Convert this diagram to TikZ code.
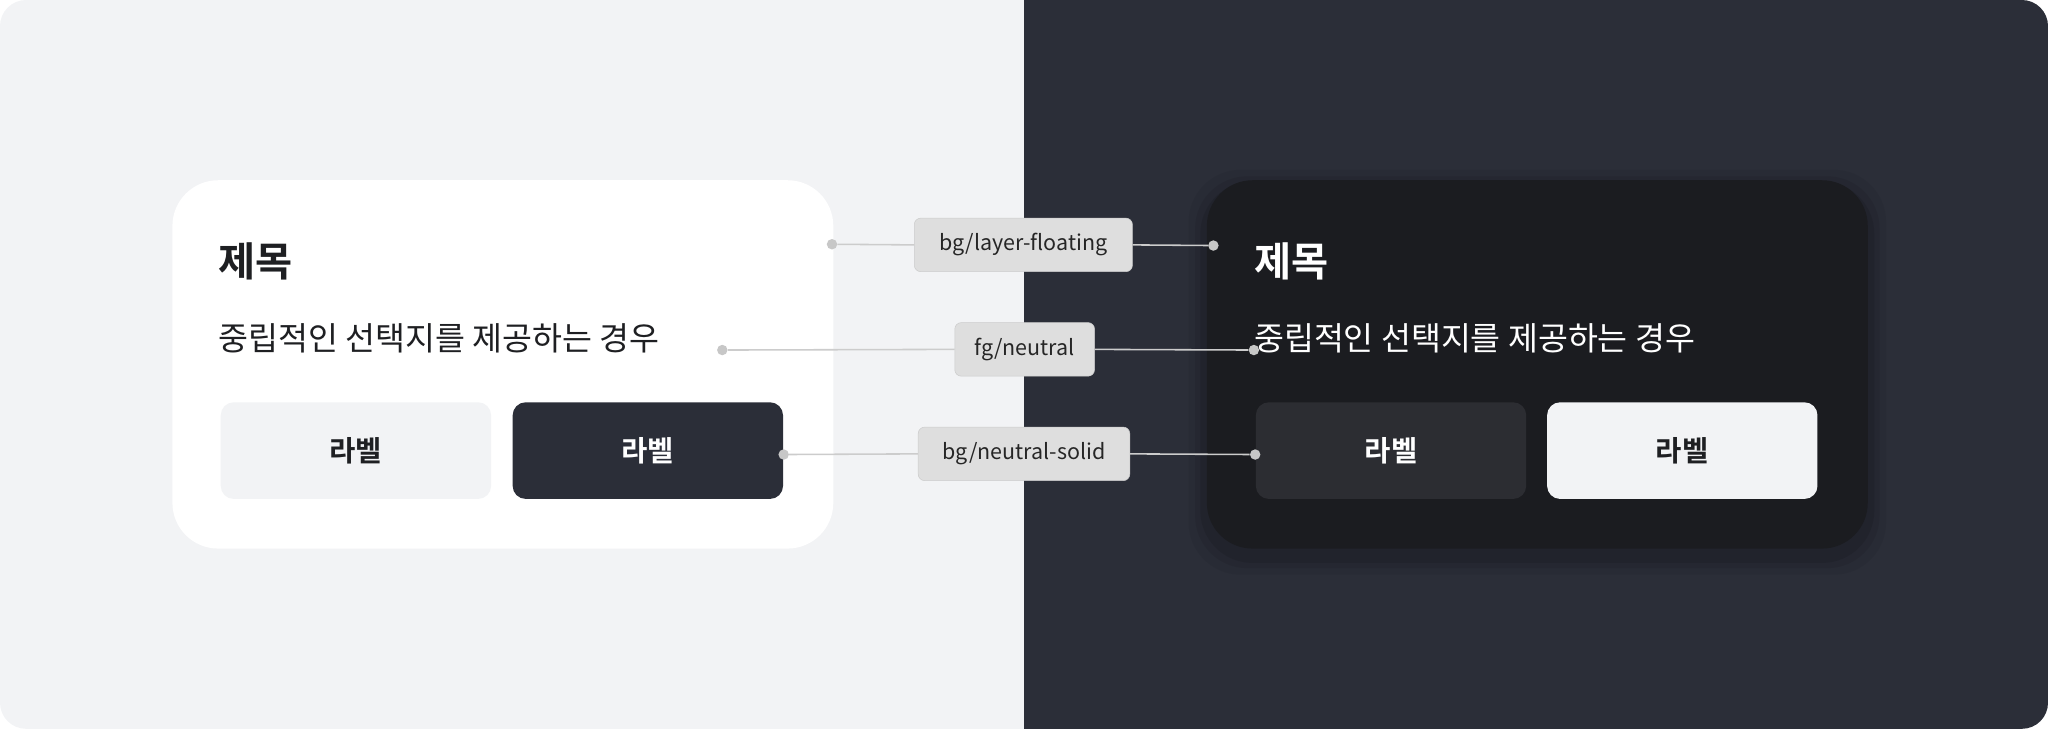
\documentclass[tikz,border=0pt]{standalone}
\usepackage{fontspec}
\setmainfont{Noto Sans CJK KR}
\newfontfamily\krbold{Noto Sans CJK KR Bold}
\begin{document}
\begin{tikzpicture}[x=1bp,y=-1bp,
  btn/.style={draw=none,rounded corners=10bp,minimum width=207bp,minimum height=74bp,font=\krbold\fontsize{22}{26}\selectfont},
  tag/.style={draw=black!20,fill=black!13,rounded corners=5bp,inner sep=0pt,minimum height=41bp,font=\fontsize{16.5}{20}\selectfont,text=black!85},
  dot/.style={circle,fill=black!22,inner sep=0pt,minimum size=8bp},
  ln/.style={draw=black!20,line width=1.2bp}]
\definecolor{lightbg}{HTML}{F2F3F5}
\definecolor{darkbg}{HTML}{2B2E38}
\definecolor{darkcard}{HTML}{1B1C20}
\definecolor{darkbtn}{HTML}{2C2D32}
\definecolor{ink}{HTML}{1E1F22}
\useasboundingbox (0,0) rectangle (1568,558);
\begin{scope}
\clip[rounded corners=20bp] (0,0) rectangle (1568,558);
\fill[lightbg] (0,0) rectangle (784,558);
\fill[darkbg] (784,0) rectangle (1568,558);
\end{scope}
% left card
\fill[white,rounded corners=35bp] (132,138) rectangle (638,420);
\node[anchor=west,font=\krbold\fontsize{31}{36}\selectfont,text=ink,inner sep=0pt] (t1) at (167,200) {제목};
\node[anchor=west,font=\fontsize{25}{30}\selectfont,text=ink,inner sep=0pt] (s1) at (167,259) {중립적인 선택지를 제공하는 경우};
\node[btn,fill=lightbg,text=ink] (b1) at (272.5,345) {라벨};
\node[btn,fill=darkbg,text=white] (b2) at (496,345) {라벨};
% right card with shadow
\foreach \d/\o in {14/0.05,9/0.07,5/0.09}{
  \fill[black,opacity=\o,rounded corners=40bp] (924-\d,138-\d+6) rectangle (1430+\d,420+\d+6);}
\fill[darkcard,rounded corners=35bp] (924,138) rectangle (1430,420);
\node[anchor=west,font=\krbold\fontsize{31}{36}\selectfont,text=white,inner sep=0pt] (t2) at (960,200) {제목};
\node[anchor=west,font=\fontsize{25}{30}\selectfont,text=white,inner sep=0pt] (s2) at (960,259) {중립적인 선택지를 제공하는 경우};
\node[btn,fill=darkbtn,text=white] (b3) at (1065,345) {라벨};
\node[btn,fill=lightbg,text=ink] (b4) at (1288,345) {라벨};
% tags
\node[tag,minimum width=167bp] (g1) at (783.5,187.5) {bg/layer-floating};
\node[tag,minimum width=107bp] (g2) at (784.5,267.5) {fg/neutral};
\node[tag,minimum width=162bp] (g3) at (784,347.5) {bg/neutral-solid};
\node[dot] (d1) at (637,187) {};
\node[dot] (d2) at (929,188) {};
\node[dot] (d3) at (553,268) {};
\node[dot] (d4) at (960,268) {};
\node[dot] (d5) at (600,348) {};
\node[dot] (d6) at (961,348) {};
\draw[ln] (d1) -- (g1.west);
\draw[ln] (g1.east) -- (d2);
\draw[ln] (d3) -- (g2.west);
\draw[ln] (g2.east) -- (d4);
\draw[ln] (d5) -- (g3.west);
\draw[ln] (g3.east) -- (d6);
\end{tikzpicture}
\end{document}
